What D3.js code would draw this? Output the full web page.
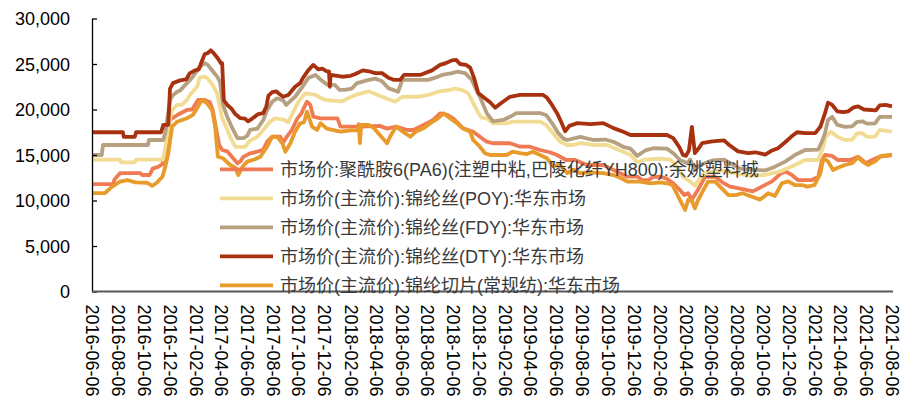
<!DOCTYPE html>
<html>
<head>
<meta charset="utf-8">
<script src="https://cdn.jsdelivr.net/npm/d3@7/dist/d3.min.js"></script>
<style>
  html, body { margin: 0; padding: 0; background: #ffffff; }
  svg { display: block; }
  .axis text { font-family: "Liberation Sans", Arial, "Noto Sans CJK SC", sans-serif; font-size: 18px; fill: #000; }
  .legend text { font-family: "Liberation Sans", Arial, "Noto Sans CJK SC", sans-serif; font-size: 18px; fill: #3a3a3a; }
</style>
</head>
<body>
<svg id="chart" width="909" height="399"></svg>
<script>
// 市场价:聚酰胺6(PA6)(注塑中粘,巴陵化纤YH800):余姚塑料城
const pa6 = [
  ["2016-06-06",11800],["2016-07-26",11800],["2016-07-29",12300],["2016-08-11",13000],["2016-09-28",13000],
  ["2016-10-02",12800],["2016-10-20",12800],["2016-10-27",13500],["2016-11-09",13700],["2016-11-19",14000],
  ["2016-11-26",15500],["2016-12-07",18850],["2016-12-24",19400],["2017-01-16",19950],["2017-01-28",20000],
  ["2017-02-11",21050],["2017-02-27",21050],["2017-03-11",20800],["2017-03-18",19900],["2017-03-25",18100],
  ["2017-04-02",16100],["2017-04-09",15550],["2017-04-21",15400],["2017-05-05",14640],["2017-05-15",14090],
  ["2017-05-22",14300],["2017-05-29",14800],["2017-06-14",15190],["2017-07-01",15360],["2017-07-15",15600],
  ["2017-07-24",16460],["2017-08-05",17010],["2017-08-24",17010],["2017-08-31",16400],["2017-09-07",16900],
  ["2017-09-21",17800],["2017-10-03",19000],["2017-10-12",19500],["2017-10-26",20860],["2017-11-03",20500],
  ["2017-11-10",19210],["2017-11-27",19030],["2018-01-06",19030],["2018-01-13",18110],["2018-03-01",18110],
  ["2018-04-16",18200],["2018-05-03",17900],["2018-05-24",18110],["2018-06-20",17750],["2018-07-04",17750],
  ["2018-07-28",18300],["2018-08-20",18850],["2018-09-05",19580],["2018-09-22",19400],["2018-10-06",19030],
  ["2018-10-29",17940],["2018-11-22",17560],["2018-12-08",17010],["2018-12-24",16460],["2019-01-08",16290],
  ["2019-02-17",16290],["2019-03-13",15910],["2019-04-05",15910],["2019-04-29",15550],["2019-05-22",15300],
  ["2019-06-08",15000],["2019-06-29",14450],["2019-07-20",14450],["2019-08-02",14200],["2019-08-18",13900],
  ["2019-09-25",13900],["2019-10-19",13350],["2019-11-04",12990],["2019-11-21",12620],["2019-12-14",12620],
  ["2019-12-26",12250],["2020-01-10",12250],["2020-01-21",12600],["2020-02-06",12620],["2020-02-22",12400],
  ["2020-03-08",11890],["2020-03-24",11150],["2020-04-03",10600],["2020-04-12",10800],["2020-04-21",10100],
  ["2020-05-05",11150],["2020-05-22",12600],["2020-06-15",12600],["2020-07-02",12000],["2020-07-20",11520],
  ["2020-08-13",11300],["2020-09-12",11000],["2020-10-03",11520],["2020-10-27",12100],["2020-11-17",12990],
  ["2020-11-29",13170],["2020-12-13",12800],["2020-12-27",12250],["2021-01-29",12250],["2021-02-13",12600],
  ["2021-02-22",14450],["2021-03-01",15000],["2021-03-18",14900],["2021-03-31",14450],["2021-04-29",14450],
  ["2021-05-18",14810],["2021-06-06",14100],["2021-06-20",14450],["2021-07-08",14810],["2021-08-06",15000]
];

// 市场价(主流价):锦纶丝(POY):华东市场
const poy = [
  ["2016-06-06",14500],["2016-08-11",14500],["2016-08-13",14200],["2016-09-15",14200],["2016-09-18",14500],
  ["2016-11-21",14500],["2016-11-28",16500],["2016-12-07",19000],["2016-12-12",19950],["2016-12-24",20500],
  ["2017-01-04",20500],["2017-01-16",21050],["2017-01-23",21600],["2017-02-09",22500],["2017-02-15",23500],
  ["2017-02-27",23600],["2017-03-06",23400],["2017-03-18",22690],["2017-03-28",21800],["2017-04-09",19030],
  ["2017-04-21",17800],["2017-04-28",17000],["2017-05-10",15900],["2017-06-02",15900],["2017-06-14",16600],
  ["2017-07-01",17000],["2017-07-15",17750],["2017-07-31",18660],["2017-08-12",19030],["2017-08-31",18900],
  ["2017-09-12",18600],["2017-09-21",19500],["2017-10-06",20860],["2017-10-22",21780],["2017-11-15",21600],
  ["2017-12-08",21050],["2018-01-17",20900],["2018-02-17",21600],["2018-03-21",22000],["2018-04-21",21400],
  ["2018-05-22",20860],["2018-06-08",21400],["2018-07-15",21400],["2018-08-08",21600],["2018-09-01",21960],
  ["2018-09-24",22140],["2018-10-11",22300],["2018-10-27",22140],["2018-11-10",21800],["2018-11-19",21000],
  ["2018-12-01",19900],["2018-12-12",19100],["2018-12-24",19030],["2019-01-08",18480],["2019-02-09",18480],
  ["2019-02-23",18660],["2019-04-29",18660],["2019-05-13",18300],["2019-05-27",17560],["2019-06-15",16460],
  ["2019-07-02",16100],["2019-07-16",16100],["2019-08-02",16300],["2019-09-02",16100],["2019-10-04",16100],
  ["2019-10-19",15800],["2019-11-11",15360],["2019-11-28",15000],["2019-12-14",14200],["2020-01-02",14500],
  ["2020-02-06",14600],["2020-03-01",14500],["2020-03-17",13720],["2020-03-31",12620],["2020-04-17",12070],
  ["2020-04-28",11600],["2020-05-10",12500],["2020-05-22",13000],["2020-06-27",13300],["2020-08-02",13000],
  ["2020-09-05",12700],["2020-10-11",12800],["2020-11-15",13200],["2020-12-20",13900],["2021-01-13",14450],
  ["2021-02-13",14450],["2021-02-24",15800],["2021-03-03",17000],["2021-03-15",17560],["2021-03-30",17000],
  ["2021-04-17",16650],["2021-05-04",16700],["2021-05-16",17390],["2021-05-28",17400],["2021-06-08",17000],
  ["2021-06-27",17010],["2021-07-08",17750],["2021-08-06",17560]
];

// 市场价(主流价):锦纶丝(FDY):华东市场
const fdy = [
  ["2016-06-06",15000],["2016-06-29",15000],["2016-07-02",16100],["2016-10-16",16100],["2016-10-18",16650],
  ["2016-11-21",16650],["2016-11-26",17500],["2016-12-07",21000],["2016-12-12",21500],["2016-12-24",21960],
  ["2016-12-31",22100],["2017-01-16",22900],["2017-01-30",23600],["2017-02-15",24700],["2017-02-27",25100],
  ["2017-03-06",24900],["2017-03-18",24200],["2017-03-30",23500],["2017-04-04",23000],["2017-04-11",20500],
  ["2017-04-21",19200],["2017-05-03",17950],["2017-05-15",16850],["2017-05-29",16850],["2017-06-07",17100],
  ["2017-06-14",17750],["2017-07-01",17900],["2017-07-15",18850],["2017-07-24",19900],["2017-08-05",20860],
  ["2017-08-17",21230],["2017-08-31",21000],["2017-09-07",20500],["2017-09-28",21400],["2017-10-14",22400],
  ["2017-10-29",23450],["2017-11-15",23800],["2017-11-27",23300],["2017-12-14",22700],["2017-12-31",22700],
  ["2018-01-11",22150],["2018-01-23",22150],["2018-02-09",22300],["2018-02-21",22900],["2018-03-21",23250],
  ["2018-04-05",23400],["2018-04-21",23100],["2018-05-06",22350],["2018-05-29",21950],["2018-06-08",23250],
  ["2018-08-08",23250],["2018-08-25",23500],["2018-09-10",23800],["2018-10-03",24000],["2018-10-15",24150],
  ["2018-11-03",24000],["2018-11-19",23250],["2018-11-28",22300],["2018-12-08",21400],["2018-12-24",19600],
  ["2019-01-08",18700],["2019-02-01",18850],["2019-02-17",19200],["2019-03-04",19600],["2019-04-29",19600],
  ["2019-05-13",19400],["2019-05-30",18300],["2019-06-11",17400],["2019-06-23",16800],["2019-07-02",16650],
  ["2019-08-02",17000],["2019-09-02",16650],["2019-09-30",16700],["2019-10-19",16450],["2019-11-11",15900],
  ["2019-11-28",15700],["2019-12-14",14900],["2020-01-02",15500],["2020-01-21",15740],["2020-02-22",15700],
  ["2020-03-08",15200],["2020-03-24",14450],["2020-04-10",14100],["2020-04-17",14500],["2020-04-28",13400],
  ["2020-05-10",13900],["2020-06-08",14400],["2020-07-06",14500],["2020-07-20",14100],["2020-08-13",13500],
  ["2020-09-05",13400],["2020-10-11",13300],["2020-11-03",13720],["2020-11-27",14270],["2020-12-20",15000],
  ["2021-01-13",15550],["2021-02-13",15600],["2021-02-22",16500],["2021-03-01",17400],["2021-03-08",18850],
  ["2021-03-18",19200],["2021-03-30",18300],["2021-04-17",18100],["2021-05-04",18150],["2021-05-16",18650],
  ["2021-05-28",18700],["2021-06-08",18450],["2021-06-27",18480],["2021-07-08",19200],["2021-08-06",19200]
];

// 市场价(主流价):锦纶丝(DTY):华东市场
const dty = [
  ["2016-06-06",17500],["2016-08-18",17500],["2016-08-20",17000],["2016-09-15",17000],["2016-09-18",17500],
  ["2016-11-16",17500],["2016-11-21",18300],["2016-12-03",18300],["2016-12-07",22300],["2016-12-14",22900],
  ["2016-12-31",23200],["2017-01-14",23300],["2017-01-23",24000],["2017-02-04",24300],["2017-02-13",24400],
  ["2017-02-20",25300],["2017-02-27",26100],["2017-03-06",26200],["2017-03-13",26500],["2017-03-20",26200],
  ["2017-03-30",25600],["2017-04-06",25100],["2017-04-09",25100],["2017-04-13",21000],["2017-04-21",20500],
  ["2017-05-01",20100],["2017-05-10",19500],["2017-05-22",19050],["2017-06-02",19000],["2017-06-09",18700],
  ["2017-06-19",19000],["2017-07-03",19500],["2017-07-15",19600],["2017-07-22",20300],["2017-07-27",21500],
  ["2017-08-05",21900],["2017-08-15",22000],["2017-08-22",21700],["2017-08-31",21400],["2017-09-12",21600],
  ["2017-09-28",22500],["2017-10-10",22900],["2017-10-17",23500],["2017-10-29",24300],["2017-11-10",24900],
  ["2017-11-22",24400],["2017-12-01",24500],["2017-12-12",24200],["2017-12-17",24200],["2017-12-19",22500],
  ["2017-12-21",23800],["2018-01-17",23600],["2018-02-06",23700],["2018-02-17",23900],["2018-03-07",24300],
  ["2018-03-21",24200],["2018-04-05",24000],["2018-04-21",24000],["2018-05-06",23500],["2018-05-20",23250],
  ["2018-06-03",23250],["2018-06-12",23800],["2018-07-20",23800],["2018-08-17",24300],["2018-09-05",24900],
  ["2018-09-19",25100],["2018-10-03",25400],["2018-10-13",25450],["2018-10-22",25000],["2018-11-05",24900],
  ["2018-11-15",24600],["2018-11-24",23500],["2018-12-04",21800],["2018-12-15",21400],["2019-01-01",20800],
  ["2019-01-13",20200],["2019-01-24",20600],["2019-02-17",21400],["2019-03-13",21600],["2019-05-06",21600],
  ["2019-05-15",21300],["2019-05-27",20500],["2019-06-08",19600],["2019-06-18",18600],["2019-06-27",17600],
  ["2019-07-07",18200],["2019-07-26",18500],["2019-08-26",18400],["2019-09-25",18500],["2019-10-19",17950],
  ["2019-11-11",17550],["2019-11-28",17200],["2020-02-22",17200],["2020-03-08",16850],["2020-03-22",15900],
  ["2020-03-31",15000],["2020-04-07",14900],["2020-04-14",15500],["2020-04-21",18100],["2020-04-28",15200],
  ["2020-05-08",15800],["2020-05-15",16300],["2020-06-08",16500],["2020-07-06",16600],["2020-07-18",16100],
  ["2020-08-08",15400],["2020-09-01",15200],["2020-09-17",15300],["2020-10-11",15050],["2020-10-27",15500],
  ["2020-11-10",15750],["2020-11-27",16400],["2020-12-11",17000],["2020-12-25",17500],["2021-01-13",17400],
  ["2021-02-06",17400],["2021-02-18",18100],["2021-03-01",19600],["2021-03-08",20750],["2021-03-18",20500],
  ["2021-03-30",19800],["2021-04-13",19700],["2021-04-25",19800],["2021-05-06",20200],["2021-05-18",20350],
  ["2021-06-01",20000],["2021-06-29",19900],["2021-07-08",20450],["2021-07-22",20500],["2021-08-06",20350]
];

// 市场价(主流价):锦纶切片(常规纺):华东市场
const chip = [
  ["2016-06-06",10800],["2016-07-06",10800],["2016-07-23",11500],["2016-08-11",12070],["2016-08-28",12250],
  ["2016-09-16",12000],["2016-10-14",11950],["2016-10-26",11600],["2016-11-07",12000],["2016-11-19",12620],
  ["2016-11-26",13720],["2016-12-03",15190],["2016-12-12",18110],["2016-12-24",18660],["2017-01-16",19030],
  ["2017-01-30",19400],["2017-02-11",20310],["2017-02-20",21050],["2017-03-04",20700],["2017-03-16",19950],
  ["2017-03-23",18300],["2017-03-30",14810],["2017-04-11",14640],["2017-04-28",13900],["2017-05-10",13600],
  ["2017-05-17",12800],["2017-05-27",13700],["2017-06-07",14270],["2017-06-24",14500],["2017-07-08",14810],
  ["2017-07-24",15910],["2017-08-05",17010],["2017-08-17",17000],["2017-08-29",16290],["2017-09-05",15360],
  ["2017-09-17",16300],["2017-09-28",17560],["2017-10-10",18480],["2017-10-19",18600],["2017-10-26",19760],
  ["2017-11-07",18110],["2017-11-19",17750],["2017-11-27",18480],["2017-12-12",17900],["2018-01-13",17560],
  ["2018-02-06",17700],["2018-02-23",17700],["2018-02-25",18400],["2018-02-28",16300],["2018-03-03",18300],
  ["2018-03-20",18300],["2018-04-01",18000],["2018-04-16",17200],["2018-05-03",16290],["2018-05-10",17000],
  ["2018-05-24",18110],["2018-06-08",17600],["2018-06-27",17010],["2018-07-11",17600],["2018-07-28",17940],
  ["2018-08-13",18500],["2018-08-31",19030],["2018-09-13",19580],["2018-09-30",19000],["2018-10-15",18480],
  ["2018-10-29",17900],["2018-11-15",17560],["2018-11-22",16650],["2018-12-08",15910],["2018-12-20",15190],
  ["2019-01-01",15000],["2019-02-09",15000],["2019-02-23",15360],["2019-03-13",15200],["2019-03-29",15100],
  ["2019-04-12",15360],["2019-04-29",15000],["2019-05-15",14640],["2019-05-30",13800],["2019-06-15",13900],
  ["2019-07-02",13000],["2019-07-16",13400],["2019-08-02",13000],["2019-08-18",13100],["2019-09-25",13000],
  ["2019-10-19",12800],["2019-11-04",12500],["2019-11-21",12070],["2019-12-21",12070],["2020-01-14",11890],
  ["2020-02-06",12000],["2020-02-22",11890],["2020-03-06",11700],["2020-03-17",10700],["2020-03-28",9690],
  ["2020-04-05",8960],["2020-04-12",10060],["2020-04-21",10000],["2020-04-28",9140],["2020-05-05",10000],
  ["2020-05-14",10790],["2020-05-29",12070],["2020-06-15",12070],["2020-06-27",11500],["2020-07-16",10600],
  ["2020-08-02",10600],["2020-08-18",10800],["2020-09-10",10420],["2020-09-29",10100],["2020-10-18",10790],
  ["2020-11-03",10500],["2020-11-19",11890],["2020-12-04",12100],["2020-12-20",11700],["2021-01-06",11700],
  ["2021-01-18",11520],["2021-02-04",11700],["2021-02-18",12990],["2021-02-25",14640],["2021-03-08",14300],
  ["2021-03-20",13350],["2021-03-31",13600],["2021-04-17",13900],["2021-05-04",14100],["2021-05-18",14750],
  ["2021-05-28",14300],["2021-06-10",13900],["2021-06-27",14300],["2021-07-11",14900],["2021-08-06",15000]
];

const seriesNames = [
  "市场价:聚酰胺6(PA6)(注塑中粘,巴陵化纤YH800):余姚塑料城",
  "市场价(主流价):锦纶丝(POY):华东市场",
  "市场价(主流价):锦纶丝(FDY):华东市场",
  "市场价(主流价):锦纶丝(DTY):华东市场",
  "市场价(主流价):锦纶切片(常规纺):华东市场"
];
const seriesData = [pa6, poy, fdy, dty, chip];
const seriesColors = ["#F07A52", "#F2DC93", "#B7A07F", "#A8320F", "#E89A2A"];

const xTickLabels = [
  "2016-06-06","2016-08-06","2016-10-06","2016-12-06","2017-02-06","2017-04-06","2017-06-06","2017-08-06",
  "2017-10-06","2017-12-06","2018-02-06","2018-04-06","2018-06-06","2018-08-06","2018-10-06","2018-12-06",
  "2019-02-06","2019-04-06","2019-06-06","2019-08-06","2019-10-06","2019-12-06","2020-02-06","2020-04-06",
  "2020-06-06","2020-08-06","2020-10-06","2020-12-06","2021-02-06","2021-04-06","2021-06-06","2021-08-06"
];
const yTicks = [0, 5000, 10000, 15000, 20000, 25000, 30000];

const parse = d3.utcParse("%Y-%m-%d");
const svg = d3.select("#chart");

const plot = { left: 92, right: 892, top: 18.5, bottom: 291.5 };

const x = d3.scaleUtc()
  .domain([parse(xTickLabels[0]), parse(xTickLabels[xTickLabels.length - 1])])
  .range([plot.left, plot.right]);
const y = d3.scaleLinear().domain([0, 30000]).range([plot.bottom, plot.top]);

// series lines
const line = d3.line()
  .x(d => x(parse(d[0])))
  .y(d => y(d[1]))
  .curve(d3.curveLinear);

svg.append("g").selectAll("path")
  .data(seriesData)
  .join("path")
  .attr("fill", "none")
  .attr("stroke", (d, i) => seriesColors[i])
  .attr("stroke-width", 3.8)
  .attr("stroke-linejoin", "round")
  .attr("stroke-linecap", "butt")
  .attr("d", line);

// y axis
const yAxis = svg.append("g")
  .attr("class", "axis")
  .attr("transform", `translate(${plot.left},0)`)
  .call(d3.axisLeft(y).tickValues(yTicks).tickFormat(d3.format(","))
    .tickSizeInner(-5).tickSizeOuter(0).tickPadding(22));
yAxis.select(".domain").attr("stroke", "#000").attr("stroke-width", 1.3);
yAxis.selectAll(".tick line").attr("stroke", "#000").attr("stroke-width", 1.3);
yAxis.selectAll("text").attr("dy", "0.34em");

// x axis
const xAxis = svg.append("g")
  .attr("class", "axis")
  .attr("transform", `translate(0,${plot.bottom})`)
  .call(d3.axisBottom(x).tickValues(xTickLabels.map(parse))
    .tickFormat(d3.utcFormat("%Y-%m-%d")).tickSize(0));
xAxis.select(".domain")
  .attr("stroke", "#595959").attr("stroke-width", 1.8)
  .attr("d", `M${plot.left},0H${plot.right + 1}`);
xAxis.selectAll("text")
  .attr("transform", "rotate(90)")
  .attr("x", 13).attr("y", 0).attr("dy", "0.36em")
  .style("text-anchor", "start");

// legend
const legend = svg.append("g").attr("class", "legend");
const legendRows = legend.selectAll("g")
  .data(seriesNames)
  .join("g")
  .attr("transform", (d, i) => `translate(220,${169.3 + i * 29})`);
legendRows.append("line")
  .attr("x1", 0).attr("x2", 53).attr("y1", 0).attr("y2", 0)
  .attr("stroke", (d, i) => seriesColors[i])
  .attr("stroke-width", 3.8);
legendRows.append("text")
  .attr("x", 60).attr("y", 0).attr("dy", "0.35em")
  .text(d => d);
</script>
</body>
</html>
